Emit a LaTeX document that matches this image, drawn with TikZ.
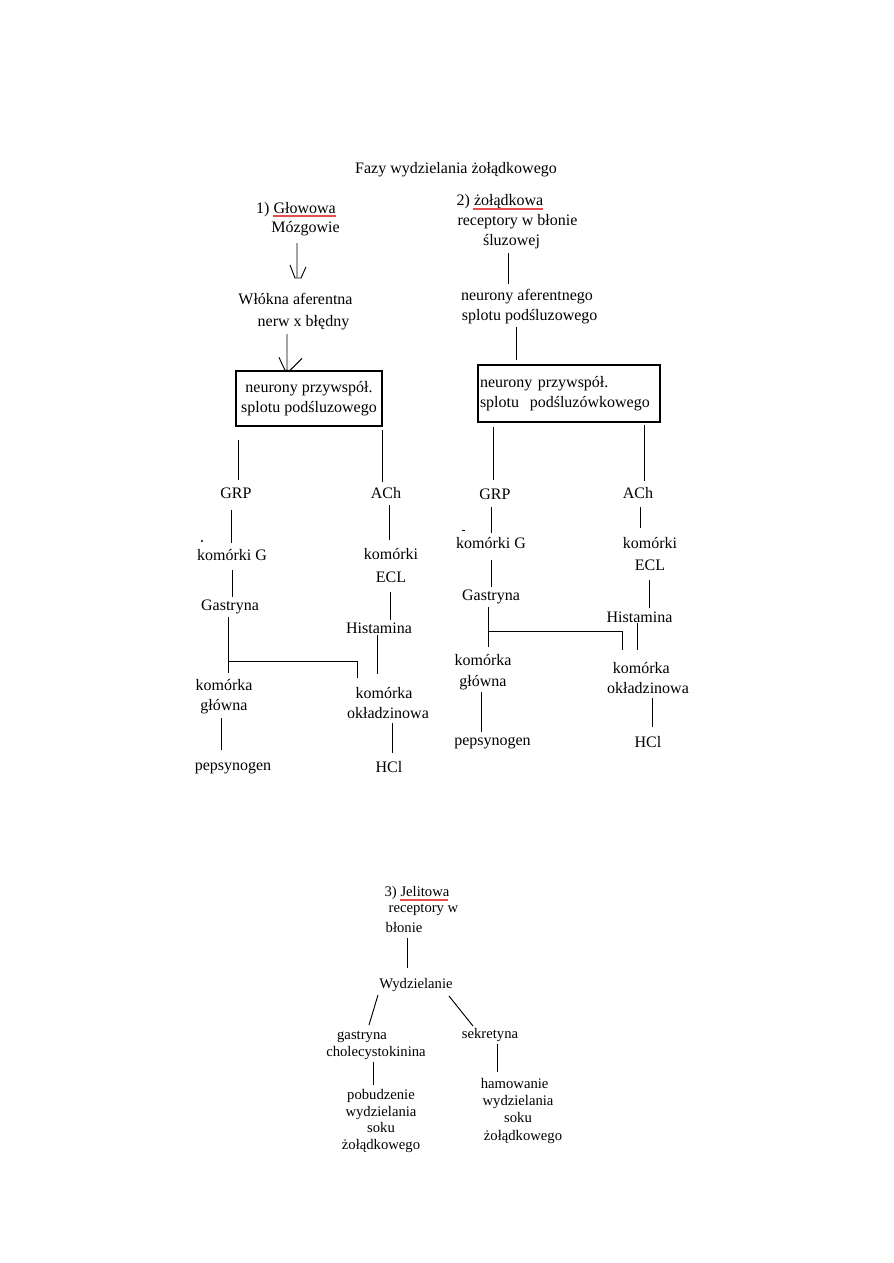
\documentclass[tikz,border=0pt]{standalone}
\usepackage{fontspec}
\setmainfont{Liberation Serif}
\definecolor{ulred}{RGB}{228,78,78}
\begin{document}
\begin{tikzpicture}[x=0.75pt,y=-0.75pt,
  t/.style={inner sep=0pt, font=\fontsize{12}{15}\selectfont, align=center},
  ts/.style={inner sep=0pt, font=\fontsize{11}{12.5}\selectfont, align=center},
  ln/.style={line width=0.7pt},
  ul/.style={draw=ulred, line width=0.9pt},
  framed/.style={draw, line width=1pt}]
\path[use as bounding box] (0,0) rectangle (893,1263);

% ---------- title ----------
\node[t] (title) at (456,170) {Fazy wydzielania żołądkowego};

% ---------- phase 1 ----------
\node[t] (h1) at (296,210) {1) Głowowa};
\node[t] (mozg) at (305.5,229) {Mózgowie};
\node[t] (wlok) at (295.5,299) {Włókna aferentna};
\node[t] (nerw) at (303.5,323) {nerw x błędny};
\node[t, framed, minimum width=109.5pt, minimum height=41.25pt] (boxL) at (309,398.5) {neurony przywspół.\\splotu podśluzowego};
\node[t] (grpL) at (236,493) {GRP};
\node[t] (achL) at (386,493) {ACh};
\node[t] (komGL) at (232,555) {komórki G};
\node[t, font=\fontsize{12}{17.25}\selectfont] (eclL) at (391,566) {komórki\\ECL};
\node[t] (gasL) at (230,607) {Gastryna};
\node[t] (hisL) at (379,628) {Histamina};
\node[t] (komGlL) at (224,697) {komórka\\główna};
\node[t] (komOkL) at (388,703) {komórka\hspace*{6pt}\\okładzinowa};
\node[t] (pepsL) at (233,768) {pepsynogen};
\node[t] (hclL) at (389,767) {HCl};

\draw[ul] ([shift={(-23,6)}]h1.center) -- ([shift={(40,6)}]h1.center);
\draw[ln] ([shift={(-8.5,14)}]mozg.center) -- ([shift={(1.5,-22)}]wlok.center)
  ++(-7,-12) -- ++(5,13) -- ++(6,0) -- ++(5,-11);
\draw[ln] ([shift={(-16.5,11)}]nerw.center) -- ([shift={(-22,0)}]boxL.north)
  ++(-8,-13) -- ++(6,13) -- ++(5,0) -- ++(12,-12);
\draw[ln] ([shift={(-71,41.5)}]boxL.center) -- ([shift={(2,-13)}]grpL.center);
\draw[ln] ([shift={(73,31.5)}]boxL.center) -- ([shift={(-4,-11)}]achL.center);
\draw[ln] ([shift={(-5,17)}]grpL.center) -- ([shift={(-1,-12)}]komGL.center);
\draw[ln] ([shift={(3,12)}]achL.center) -- ([shift={(-2,-26)}]eclL.center);
\draw[ln] ([shift={(0,15)}]komGL.center) -- ([shift={(2,-10)}]gasL.center);
\draw[ln] ([shift={(-1,26)}]eclL.center) -- ([shift={(11,-8)}]hisL.center);
\draw[ln] ([shift={(-2,10)}]gasL.center) -- ([shift={(4,-24)}]komGlL.center);
\draw[ln] ([shift={(-2,54)}]gasL.center) -| ([shift={(-31,-25)}]komOkL.center);
\draw[ln] ([shift={(-2,7)}]hisL.center) -- ([shift={(-11,-29)}]komOkL.center);
\draw[ln] ([shift={(-3,21)}]komGlL.center) -- ([shift={(-12,-18)}]pepsL.center);
\draw[ln] ([shift={(4,20)}]komOkL.center) -- ([shift={(3,-14)}]hclL.center);
\fill (202,541) circle (1.1);

% ---------- phase 2 ----------
\node[t] (h2) at (500,202) {2) żołądkowa};
\node[t] (recR) at (517.5,222) {receptory w błonie};
\node[t] (sluz) at (511.5,242) {śluzowej};
\node[t] (neuAf) at (527,307) {neurony aferentnego\\\hspace*{4pt}splotu podśluzowego};
\node[t, framed, align=left, text width=133.5pt, inner xsep=1.5pt, minimum height=42.75pt] (boxR) at (569,393.5) {neurony przywspół.\\splotu\ \ podśluzówkowego};
\node[t] (grpR) at (495,494) {GRP};
\node[t] (achR) at (638,493) {ACh};
\node[t] (komGR) at (491,543) {komórki G};
\node[t, font=\fontsize{12}{16.5}\selectfont] (eclR) at (650,554) {komórki\\ECL};
\node[t] (gasR) at (491,597) {Gastryna};
\node[t] (hisR) at (639.5,617) {Histamina};
\node[t, font=\fontsize{12}{15.75}\selectfont] (komGlR) at (483,672.5) {komórka\\główna};
\node[t] (komOkR) at (648,678) {komórka\hspace*{10pt}\\okładzinowa};
\node[t] (pepsR) at (492.5,743) {pepsynogen};
\node[t] (hclR) at (648,742) {HCl};

\draw[ul] ([shift={(-27,7)}]h2.center) -- ([shift={(43,7)}]h2.center);
\draw[ln] ([shift={(-3.5,11)}]sluz.center) -- ([shift={(-19,-23)}]neuAf.center);
\draw[ln] ([shift={(-11,20)}]neuAf.center) -- ([shift={(-53,-33.5)}]boxR.center);
\draw[ln] ([shift={(-76,33.5)}]boxR.center) -- ([shift={(-2,-14)}]grpR.center);
\draw[ln] ([shift={(75,31.5)}]boxR.center) -- ([shift={(6,-12)}]achR.center);
\draw[ln] ([shift={(-4,13)}]grpR.center) -- ([shift={(0,-10)}]komGR.center);
\draw[ln] ([shift={(2,14)}]achR.center) -- ([shift={(-10,-26)}]eclR.center);
\draw[ln] ([shift={(0,17)}]komGR.center) -- ([shift={(0,-10)}]gasR.center);
\draw[ln] ([shift={(-1,26)}]eclR.center) -- ([shift={(9.5,-9)}]hisR.center);
\draw[ln] ([shift={(-3,10)}]gasR.center) -- ([shift={(5,-25.5)}]komGlR.center);
\draw[ln] ([shift={(-3,34)}]gasR.center) -| ([shift={(-26,-28)}]komOkR.center);
\draw[ln] ([shift={(-2.5,6)}]hisR.center) -- ([shift={(-11,-28)}]komOkR.center);
\draw[ln] ([shift={(-2,19.5)}]komGlR.center) -- ([shift={(-11.5,-11)}]pepsR.center);
\draw[ln] ([shift={(4,20)}]komOkR.center) -- ([shift={(4,-15)}]hclR.center);
\draw[line width=0.6pt] (461.5,530) -- (464.5,530);

% ---------- phase 3 ----------
\node[ts] (h3) at (417,893) {3) Jelitowa};
\node[ts] (recB) at (423.5,910) {receptory w};
\node[ts] (blon) at (404,927) {błonie};
\node[ts] (wyd) at (416,985) {Wydzielanie};
\node[ts] (gastr) at (362,1037) {gastryna};
\node[ts] (chol) at (376,1053) {cholecystokinina};
\node[ts] (sekr) at (490,1035) {sekretyna};
\node[ts] (pob) at (381,1121) {pobudzenie\\wydzielania\\soku\hspace*{15pt}\\żołądkowego};
\node[ts, font=\fontsize{11}{13}\selectfont] (ham) at (518,1110.5) {hamowanie\hspace*{5pt}\\wydzielania\\soku\hspace*{7.5pt}\\\hspace*{7.5pt}żołądkowego};

\draw[ul] ([shift={(-17,7)}]h3.center) -- ([shift={(31,7)}]h3.center);
\draw[ln] ([shift={(3,11)}]blon.center) -- ([shift={(-9,-17)}]wyd.center);
\draw[ln] ([shift={(-38,10)}]wyd.center) -- ([shift={(7,-12)}]gastr.center);
\draw[ln] ([shift={(33,11)}]wyd.center) -- ([shift={(-17,-9)}]sekr.center);
\draw[ln] ([shift={(-3,9)}]chol.center) -- ([shift={(-8,-36)}]pob.center);
\draw[ln] ([shift={(7,9)}]sekr.center) -- ([shift={(-21,-38.5)}]ham.center);
\end{tikzpicture}
\end{document}
